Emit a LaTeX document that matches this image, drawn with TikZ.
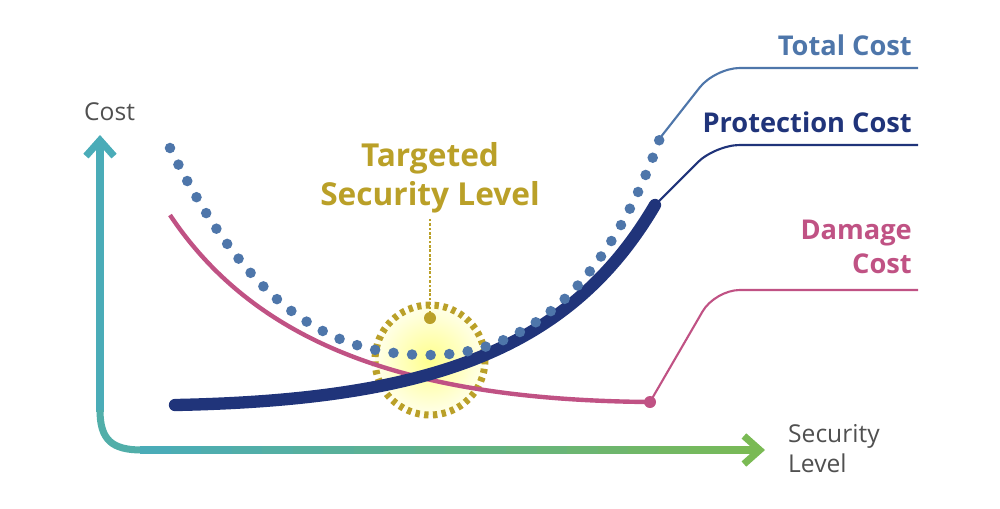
\documentclass[tikz,border=0pt]{standalone}
\usepackage{fontspec}
\setmainfont{Open Sans}
\usetikzlibrary{arrows.meta}
\definecolor{totalblue}{RGB}{78,118,170}
\definecolor{navyblue}{RGB}{32,52,122}
\definecolor{damagepink}{RGB}{192,82,132}
\definecolor{goldtext}{RGB}{186,160,40}
\definecolor{axisteal}{RGB}{74,172,184}
\definecolor{axisgreen}{RGB}{122,186,84}
\definecolor{axisgray}{RGB}{80,80,80}
\begin{document}
\begin{tikzpicture}[
    x=0.2mm, y=-0.2mm,
    label/.style={font=\fontsize{15.5}{19}\selectfont\bfseries, align=right, anchor=east},
    axislabel/.style={font=\fontsize{14}{17}\selectfont, text=axisgray, align=left},
    leader/.style={line width=1.2pt, rounded corners=14pt}
]
    \useasboundingbox (0,0) rectangle (1000,508);

    % Axes
    \draw[axisteal, line width=4pt] (100,412) -- (100,150);
    \draw[axisteal, line width=4pt, -{Straight Barb[length=9pt,width=16pt]}] (100,160) -- (100,135);
    \draw[line width=4pt, color=axisteal!85!axisgreen] (100,410) .. controls (100,440) and (112,450) .. (142,450);
    \foreach \i in {0,...,19} {
        \pgfmathsetmacro{\mix}{100-\i*5}
        \draw[line width=4pt, color=axisteal!\mix!axisgreen] (140+\i*30.5,450) -- (171+\i*30.5,450);
    }
    \draw[axisgreen, line width=4pt, -{Straight Barb[length=9pt,width=16pt]}] (740,450) -- (765,450);
    \node[axislabel, anchor=west] (cost) at (78,112) {Cost};
    \node[axislabel, anchor=west] (seclevel) at (782,449) {Security\\Level};

    % Target circle
    \shade[inner color=yellow!45, outer color=yellow!8] (430,360) circle (55);
    \draw[goldtext, line width=4pt, dash pattern=on 2.5pt off 2.5pt] (430,360) circle (55);

    % Curves
    \draw[damagepink, line width=2.5pt] (170,215) .. controls (260,350) and (420,400) .. (650,402);
    \draw[navyblue, line width=7pt, line cap=round] (175,405) .. controls (430,400) and (570,350) .. (655,205);
    \draw[totalblue, line width=6pt, line cap=round, dash pattern=on 0pt off 10.6pt]
        (170,148) .. controls (260,330) and (350,355) .. (430,355) .. controls (530,355) and (610,280) .. (660,138);

    % Target marker
    \coordinate (tdot) at (430,318);
    \node[label, font=\fontsize{18}{22}\selectfont\bfseries, text=goldtext, anchor=center, align=center] (target) at (430,178) {Targeted\\Security Level};
    \draw[goldtext, line width=1.5pt, densely dotted] (tdot) -- (target.south);
    \fill[goldtext] (tdot) circle (6);

    % Leaders
    \coordinate (tend) at (660,138);
    \coordinate (pend) at (655,205);
    \coordinate (dend) at (650,402);
    \fill[damagepink] (dend) circle (6);
    \draw[leader, totalblue] (tend) -- (715,68) -- (918,68);
    \draw[leader, navyblue] (pend) -- (715,145) -- (918,145);
    \draw[leader, damagepink] (dend) -- (715,290) -- (918,290);
    \node[label, text=totalblue] (total) at (918,45) {Total Cost};
    \node[label, text=navyblue] (protect) at (918,122) {Protection Cost};
    \node[label, text=damagepink] (damage) at (918,247) {Damage\\Cost};
\end{tikzpicture}
\end{document}
